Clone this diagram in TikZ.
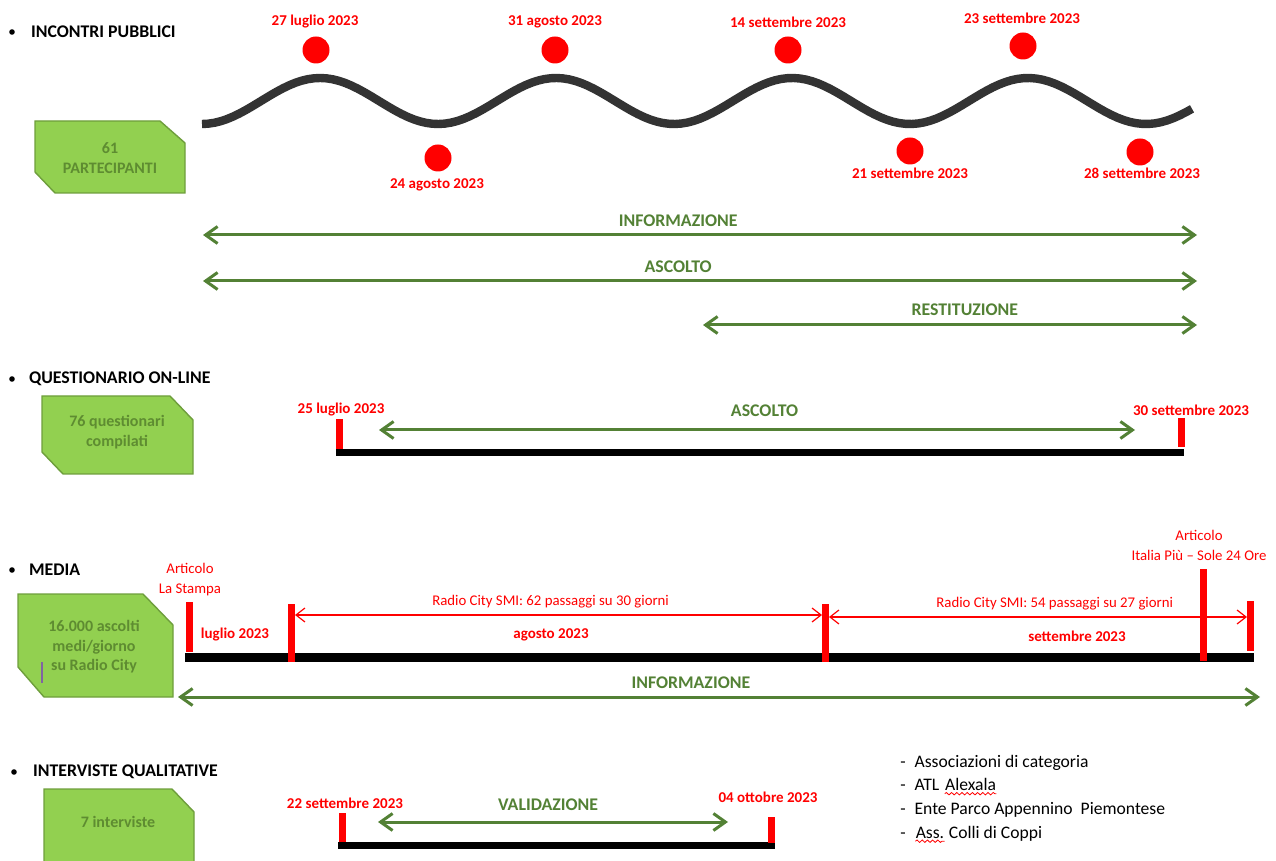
\documentclass[tikz,border=0pt]{standalone}
\usepackage{fontspec}
\setmainfont{Carlito}
\usetikzlibrary{arrows.meta,positioning,decorations.pathmorphing}

\definecolor{tagfill}{HTML}{92D050}
\definecolor{tagline}{HTML}{6E9E3C}
\definecolor{tagtxt}{HTML}{5E8C31}
\definecolor{arrowgreen}{HTML}{538135}
\definecolor{wavegray}{HTML}{333333}
\definecolor{cursor}{HTML}{8064A2}

\begin{document}
\begin{tikzpicture}[x=0.5pt, y=-0.5pt,
   head/.style={anchor=west, font=\bfseries\fontsize{8.9}{10}\selectfont},
   bullet/.style={circle, fill=black, inner sep=0pt, minimum size=2.8pt},
   tagshape/.style={fill=tagfill, draw=tagline, line width=0.7pt},
   tagtext/.style={text=tagtxt, align=center, font=\bfseries\fontsize{8}{9.8}\selectfont},
   dot/.style={circle, fill=red, inner sep=0pt, minimum size=13.5pt},
   date/.style={text=red, font=\bfseries\fontsize{7.5}{9}\selectfont},
   note/.style={text=red, align=center, font=\fontsize{7.4}{10}\selectfont},
   phase/.style={text=arrowgreen, font=\bfseries\fontsize{8.9}{10}\selectfont},
   span/.style={draw=arrowgreen, line width=1.5pt, {Straight Barb[length=6pt,width=8.5pt]}-{Straight Barb[length=6pt,width=8.5pt]}},
   radio/.style={draw=red, line width=0.6pt, {Straight Barb[length=4.5pt,width=7pt]}-{Straight Barb[length=4.5pt,width=7pt]}},
   bar/.style={draw=black, line width=3.5pt},
   tick/.style={draw=red, line width=3.5pt},
   wave/.style={draw=wavegray, line width=4.2pt},
   item/.style={anchor=base west, inner sep=0pt, font=\fontsize{8.8}{10}\selectfont},
   spell/.style={draw=red, line width=0.4pt, decorate, decoration={snake, amplitude=0.6pt, segment length=2.6pt}}]
   \useasboundingbox (0,0) rectangle (1276,861);
   \clip (0,0) rectangle (1276,861);

   \node (b1) at (12,32) [bullet] {};
   \node (h1) at (24,32) [head] {INCONTRI PUBBLICI};
   \draw[tagshape] (35,121) -- (160,121) -- (185,143) -- (185,193) -- (55,193) -- (35,172) -- cycle;
   \node (t1) at (110,158) [tagtext] {61\\PARTECIPANTI};

   \draw[wave] plot[domain=202:1192, samples=160] (\x, {101+23*cos((\x-202)/236*360)});

   \node (d1) at (316,50) [dot] {};
   \node (d2) at (438,158) [dot] {};
   \node (d3) at (555,50) [dot] {};
   \node (d4) at (788,50) [dot] {};
   \node (d5) at (910,151) [dot] {};
   \node (d6) at (1023,46) [dot] {};
   \node (d7) at (1140,152) [dot] {};
   \node (l1) at (315,22) [date] {27 luglio 2023};
   \node (l2) at (437,185) [date] {24 agosto 2023};
   \node (l3) at (555,22) [date] {31 agosto 2023};
   \node (l4) at (788,22) [date] {14 settembre 2023};
   \node (l5) at (910,173) [date] {21 settembre 2023};
   \node (l6) at (1022,18) [date] {23 settembre 2023};
   \node (l7) at (1142,173) [date] {28 settembre 2023};

   \coordinate (i1) at (203,235);
   \coordinate (i2) at (1197,235);
   \coordinate (s1) at (203,281);
   \coordinate (s2) at (1197,281);
   \coordinate (r1) at (703,325);
   \coordinate (r2) at (1197,325);
   \draw (i1)[span] -- node[above=0pt, pos=.478, phase]{INFORMAZIONE} (i2);
   \draw (s1)[span] -- node[above=0pt, pos=.478, phase]{ASCOLTO} (s2);
   \draw (r1)[span] -- node[above=0.5pt, pos=.53, phase]{RESTITUZIONE} (r2);

   \node (b2) at (12,379) [bullet] {};
   \node (h2) at (22,379) [head] {QUESTIONARIO ON-LINE};
   \draw[tagshape] (42,396) -- (170,396) -- (193,420) -- (193,474) -- (63,474) -- (42,452) -- cycle;
   \node (t2) at (117,432) [tagtext] {76 questionari\\compilati};

   \coordinate (q0) at (336,452.5);
   \coordinate (q9) at (1184,452.5);
   \draw (q0)[bar] -- (q9);
   \draw[tick] (339.5,419) -- (339.5,449);
   \draw[tick] (1181,418) -- (1181,447);
   \node (l8) at (341,410) [date] {25 luglio 2023};
   \node (l9) at (1191,410) [date] {30 settembre 2023};
   \coordinate (a1) at (379,430);
   \coordinate (a2) at (1135,430);
   \draw (a1)[span] -- node[above=2.5pt, pos=.51, phase]{ASCOLTO} (a2);

   \node (b3) at (12,570) [bullet] {};
   \node (h3) at (22,570) [head] {MEDIA};
   \draw[tagshape] (18,594) -- (143,594) -- (173,625) -- (173,697) -- (44,697) -- (18,667) -- cycle;
   \node (t3) at (94,647) [tagtext] {16.000 ascolti\\medi/giorno\\su Radio City};
   \draw[cursor, line width=0.6pt] (42,662) -- (42,683);

   \coordinate (m0) at (185,657.5);
   \coordinate (m9) at (1254,657.5);
   \draw (m0)[bar, line width=4.5pt] -- (m9);
   \draw[tick] (189.5,602) -- (189.5,652);
   \draw[tick] (291.5,604) -- (291.5,662);
   \draw[tick] (825.5,604) -- (825.5,662);
   \draw[tick] (1203,569) -- (1203,661);
   \draw[tick] (1250.5,601) -- (1250.5,651);
   \coordinate (p1) at (295,615);
   \coordinate (p2) at (822,615);
   \coordinate (p3) at (829,617);
   \coordinate (p4) at (1247,617);
   \draw (p1)[radio] -- node[above, pos=.485, note]{Radio City SMI: 62 passaggi su 30 giorni} (p2);
   \draw (p3)[radio] -- node[above, pos=.54, note]{Radio City SMI: 54 passaggi su 27 giorni} (p4);
   \node (n1) at (235,635) [date] {luglio 2023};
   \node (n2) at (551,635) [date] {agosto 2023};
   \node (n3) at (1077,636) [date] {settembre 2023};
   \node (c1) at (190,580) [note] {Articolo\\La Stampa};
   \node (c2) at (1199,545) [note] {Articolo\\Italia Più – Sole 24 Ore};
   \coordinate (f1) at (178,697);
   \coordinate (f2) at (1260,697);
   \draw (f1)[span] -- node[above=0pt, pos=.474, phase]{INFORMAZIONE} (f2);

   \node (b4) at (14,772) [bullet] {};
   \node (h4) at (26,772) [head] {INTERVISTE QUALITATIVE};
   \draw[tagshape] (44,789) -- (172,789) -- (194,812) -- (194,885) -- (44,885) -- cycle;
   \node (t4) at (118,822) [tagtext] {7 interviste};

   \coordinate (v0) at (338,845.5);
   \coordinate (v9) at (775,845.5);
   \draw (v0)[bar] -- (v9);
   \draw[tick] (342,813) -- (342,842);
   \draw[tick] (771.5,817) -- (771.5,843);
   \node (l10) at (345,803) [date] {22 settembre 2023};
   \node (l11) at (768,797) [date] {04 ottobre 2023};
   \coordinate (w1) at (378,822);
   \coordinate (w2) at (728,822);
   \draw (w1)[span] -- node[above=1.5pt, pos=.486, phase]{VALIDAZIONE} (w2);

   \node (k1) at (900,767) [item] {-\hspace{0.5em}Associazioni di categoria};
   \node (k2) at (900,790.5) [item] {-\hspace{0.5em}ATL};
   \node (k2w) at ([xshift=2.5pt]k2.base east) [item] {Alexala};
   \node (k3) at (900,814) [item] {-\hspace{0.5em}Ente Parco Appennino\ \ Piemontese};
   \node (k4) at (900,838) [item] {-};
   \node (k4w) at ([xshift=4.6pt]k4.base east) [item] {Ass.};
   \node (k4r) at ([xshift=2pt]k4w.base east) [item] {Colli di Coppi};
   \draw[spell] ([yshift=-1.6pt]k2w.base west) -- ([yshift=-1.6pt]k2w.base east);
   \draw[spell] ([yshift=-1.6pt]k4w.base west) -- ([yshift=-1.6pt]k4w.base east);
\end{tikzpicture}
\end{document}
